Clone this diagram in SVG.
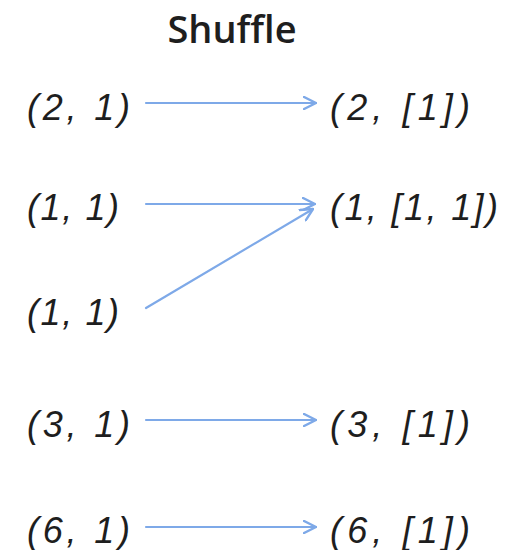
<svg xmlns="http://www.w3.org/2000/svg" width="507" height="550" viewBox="0 0 507 550">
<style>
.t{font-family:"Liberation Sans","DejaVu Sans",sans-serif;font-style:italic;font-size:36px;fill:#1e1e1e}
.title{font-family:"Open Sans","Liberation Sans",sans-serif;font-weight:600;font-size:38px;fill:#1e1e1e}
.c{fill:none;stroke:#7ea9e8;stroke-width:2.2;stroke-linecap:round}
</style>
<defs>
<marker id="ah" viewBox="0 0 14 14" refX="13" refY="7" markerWidth="14" markerHeight="14" markerUnits="userSpaceOnUse" orient="auto">
<path d="M1,1 L13,7 L1,13" fill="none" stroke="#7ea9e8" stroke-width="2.4" stroke-linecap="round" stroke-linejoin="round"/>
</marker>
</defs>
<text class="title" x="232" y="43" text-anchor="middle">Shuffle</text>
<g id="in1"><text class="t" x="27" y="120" textLength="103" lengthAdjust="spacing">(2, 1)</text></g>
<g id="in2"><text class="t" x="27" y="220" textLength="92" lengthAdjust="spacing">(1, 1)</text></g>
<g id="in3"><text class="t" x="27" y="325" textLength="92" lengthAdjust="spacing">(1, 1)</text></g>
<g id="in4"><text class="t" x="27" y="437" textLength="103" lengthAdjust="spacing">(3, 1)</text></g>
<g id="in5"><text class="t" x="27" y="543" textLength="103" lengthAdjust="spacing">(6, 1)</text></g>
<g id="out1"><text class="t" x="330" y="120" textLength="140" lengthAdjust="spacing">(2, [1])</text></g>
<g id="out2"><text class="t" x="330" y="220" textLength="168" lengthAdjust="spacing">(1, [1, 1])</text></g>
<g id="out4"><text class="t" x="330" y="437" textLength="140" lengthAdjust="spacing">(3, [1])</text></g>
<g id="out5"><text class="t" x="330" y="543" textLength="140" lengthAdjust="spacing">(6, [1])</text></g>
<g id="connectors">
<path class="c" d="M146,103 L316,103" marker-end="url(#ah)"/>
<path class="c" d="M146,204 L315,204" marker-end="url(#ah)"/>
<path class="c" d="M146,308 L313,209" marker-end="url(#ah)"/>
<path class="c" d="M146,420 L316,420" marker-end="url(#ah)"/>
<path class="c" d="M146,527 L316,527" marker-end="url(#ah)"/>
</g>
</svg>
